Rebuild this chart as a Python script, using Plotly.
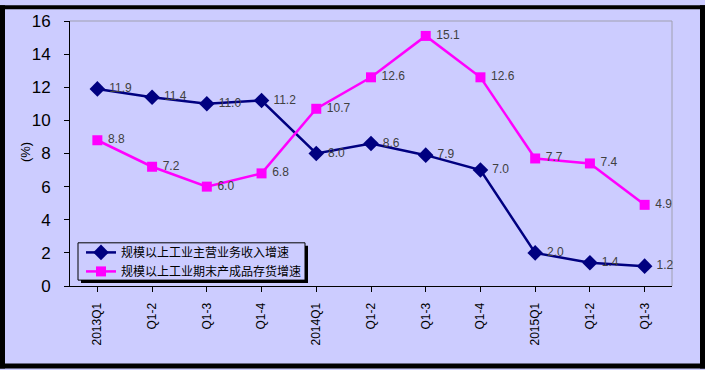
import plotly.graph_objects as go

categories = ["2013Q1", "Q1-2", "Q1-3", "Q1-4", "2014Q1", "Q1-2", "Q1-3", "Q1-4", "2015Q1", "Q1-2", "Q1-3"]
revenue_growth = [11.9, 11.4, 11.0, 11.2, 8.0, 8.6, 7.9, 7.0, 2.0, 1.4, 1.2]
inventory_growth = [8.8, 7.2, 6.0, 6.8, 10.7, 12.6, 15.1, 12.6, 7.7, 7.4, 4.9]
series_names = ["规模以上工业主营业务收入增速", "规模以上工业期末产成品存货增速"]
y_ticks = [0, 2, 4, 6, 8, 10, 12, 14, 16]

W, H = 705, 370
L, R, T, B = 70, 33, 16, 84
pw, ph = W - L - R, H - T - B

x_idx = list(range(len(categories)))

fig = go.Figure()
fig.add_trace(go.Scatter(
    x=x_idx, y=revenue_growth, name=series_names[0],
    mode="lines+markers+text",
    line=dict(color="#000080", width=2.5),
    marker=dict(symbol="diamond", size=12, color="#000080"),
    text=[" " + f"{v:.1f}" for v in revenue_growth],
    textposition="middle right",
    textfont=dict(family="Arial", size=12, color="#404040"),
    cliponaxis=False,
))
fig.add_trace(go.Scatter(
    x=x_idx, y=inventory_growth, name=series_names[1],
    mode="lines+markers+text",
    line=dict(color="#FF00FF", width=2.5),
    marker=dict(symbol="square", size=10, color="#FF00FF"),
    text=[" " + f"{v:.1f}" for v in inventory_growth],
    textposition="middle right",
    textfont=dict(family="Arial", size=12, color="#404040"),
    cliponaxis=False,
))

def px_x(p):
    return (p - L) / pw

def px_y(p):
    return (H - B - p) / ph

shapes = []
# plot area faint border top/right
shapes.append(dict(type="line", xref="paper", yref="paper", x0=0, x1=1, y0=1, y1=1,
                   line=dict(color="#A0A0B0", width=1), layer="below"))
shapes.append(dict(type="line", xref="paper", yref="paper", x0=1, x1=1, y0=0, y1=1,
                   line=dict(color="#A0A0B0", width=1), layer="below"))
# legend box with shadow (drawn below traces; legend text drawn on top)
lx0, lx1, ly0, ly1 = 78, 305, 242, 280
shapes.append(dict(type="rect", xref="paper", yref="paper",
                   x0=px_x(lx0 + 3), x1=px_x(lx1 + 3), y0=px_y(ly1 + 3), y1=px_y(ly0 + 3),
                   fillcolor="black", line=dict(width=0), layer="below"))
shapes.append(dict(type="rect", xref="paper", yref="paper",
                   x0=px_x(lx0), x1=px_x(lx1), y0=px_y(ly1), y1=px_y(ly0),
                   fillcolor="#CCCCFF", line=dict(color="black", width=1), layer="below"))
# black frame
frame = [(0, 0, 5, H), (700, 0, W, H), (0, 0, W, 4), (0, 365, W, H)]
for (a, b, c, d) in frame:
    shapes.append(dict(type="rect", xref="paper", yref="paper",
                       x0=px_x(a), x1=px_x(c), y0=px_y(d), y1=px_y(b),
                       fillcolor="black", line=dict(width=0), layer="above"))

fig.update_layout(
    width=W, height=H,
    margin=dict(l=L, r=R, t=T, b=B),
    paper_bgcolor="#CCCCFF",
    plot_bgcolor="#CCCCFF",
    showlegend=True,
    legend=dict(
        x=px_x(lx0 + 3), y=px_y(ly0 - 5), xanchor="left", yanchor="top",
        bgcolor="rgba(0,0,0,0)", borderwidth=0,
        font=dict(family="Noto Sans CJK SC", size=12, color="black"),
        tracegroupgap=0, itemwidth=30,
    ),
    xaxis=dict(
        tickmode="array", tickvals=x_idx, ticktext=categories,
        range=[-0.5, len(categories) - 0.5],
        showgrid=False, zeroline=False,
        showline=True, linecolor="black", linewidth=1,
        ticks="outside", ticklen=5, tickcolor="black",
        tickson="boundaries",
        tickangle=-90,
        tickfont=dict(family="Arial", size=12, color="black"),
        ticklabelstandoff=6,
    ),
    yaxis=dict(
        range=[0, 16], tickvals=y_ticks,
        showgrid=False, zeroline=False,
        showline=True, linecolor="black", linewidth=1,
        ticks="outside", ticklen=5, tickcolor="black",
        tickfont=dict(family="Arial", size=17, color="black"),
        ticklabelstandoff=10,
    ),
    shapes=shapes,
    annotations=[dict(
        text="(%)", xref="paper", yref="paper",
        x=px_x(16), y=px_y(150), showarrow=False, textangle=-90,
        font=dict(family="Arial", size=13, color="black"),
    )],
)

fig.write_html(
    "out.html",
    config={"displayModeBar": False},
    post_script="document.body.style.margin='0';document.body.style.overflow='hidden';",
)
